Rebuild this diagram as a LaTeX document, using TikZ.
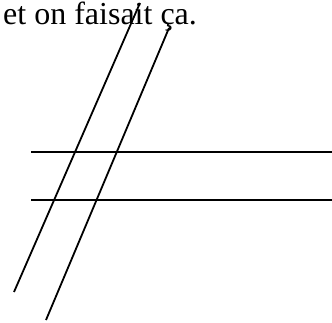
\documentclass[tikz,border=0pt]{standalone}
\usepackage{fontspec}
\setmainfont{Liberation Serif}
\usepackage{tikz}

\begin{document}
\begin{tikzpicture}[
    x=1pt, y=-1pt,
    caption/.style = {anchor=base west, inner sep=0pt,
                      font=\fontsize{32}{36}\selectfont},
    trait/.style   = {line width=1.8pt}
]
\useasboundingbox (0,0) rectangle (332,323);

\node[caption] (texte) at (3,25) {et on faisait ça.};

% les deux obliques
\coordinate (o1h) at (140,3);
\coordinate (o1b) at (14,292);
\coordinate (o2h) at (169,28);
\coordinate (o2b) at (46,320);

% les deux horizontales
\coordinate (h1g) at (31,152);
\coordinate (h1d) at (332,152);
\coordinate (h2g) at (31,200);
\coordinate (h2d) at (332,200);

\draw[trait] (o1h) -- (o1b);
\draw[trait] (o2h) -- (o2b);
\draw[trait] (h1g) -- (h1d);
\draw[trait] (h2g) -- (h2d);

\end{tikzpicture}
\end{document}
